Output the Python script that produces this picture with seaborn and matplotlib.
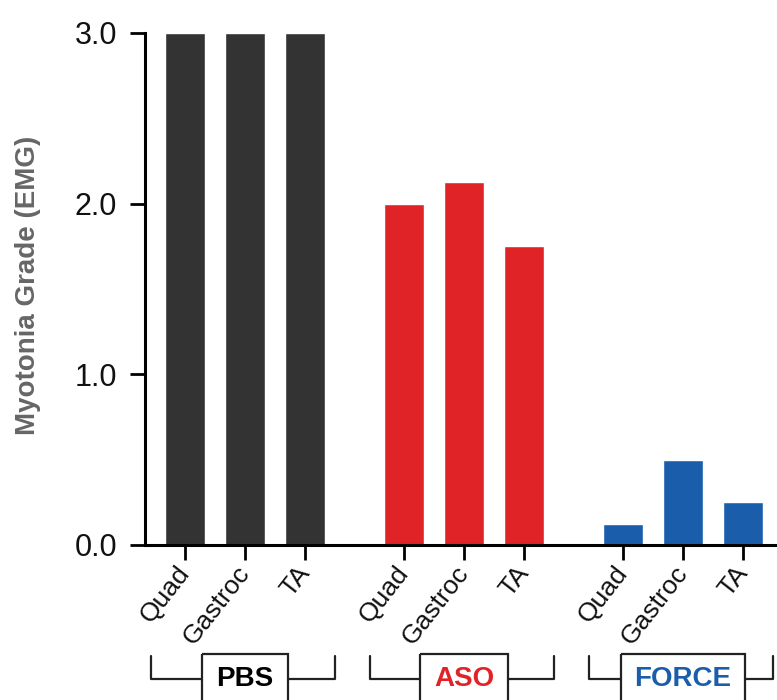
import numpy as np
import pandas as pd
import matplotlib
matplotlib.use("Agg")
import matplotlib.pyplot as plt
from matplotlib.patches import Rectangle
import matplotlib.transforms as mtransforms
import seaborn as sns

# DATA
groups = ["PBS", "ASO", "FORCE"]
muscles = ["Quad", "Gastroc", "TA"]
pbs_grade = [3.0, 3.0, 3.0]
aso_grade = [2.0, 2.125, 1.75]
force_grade = [0.125, 0.5, 0.25]
group_colors = ["#333333", "#e02327", "#1a5eab"]
group_text_colors = ["#000000", "#e02327", "#1a5eab"]

# building the long table
group_step = 3.65
rows = []
for g, (name, vals) in enumerate(zip(groups, [pbs_grade, aso_grade, force_grade])):
    for m, (muscle, v) in enumerate(zip(muscles, vals)):
        rows.append({"group": name, "muscle": muscle, "pos": g * group_step + m, "grade": v})
df = pd.DataFrame(rows)

sns.set_style("ticks")
plt.rcParams["font.family"] = ["Liberation Sans", "DejaVu Sans"]

fig = plt.figure(figsize=(7.77, 7), dpi=100)
ax = fig.add_axes([145 / 777, 155 / 700, 670 / 777, 512 / 700])

sns.barplot(data=df, x="pos", y="grade", hue="group", hue_order=groups,
            palette=group_colors, native_scale=True, dodge=False, width=0.667,
            saturation=1, legend=False, ax=ax)

ax.set_xlim(-0.667, 10.5)
ax.set_ylim(0, 3.0)
ax.set_yticks([0, 1, 2, 3])
ax.set_yticklabels(["0.0", "1.0", "2.0", "3.0"], fontsize=22, color="#111111")
ax.set_xticks(df["pos"])
ax.set_xticklabels(df["muscle"], fontsize=19, rotation=52, ha="right",
                   va="center", rotation_mode="anchor", color="#111111")
ax.tick_params(axis="y", length=11, width=2, pad=9, color="black")
ax.tick_params(axis="x", length=11, width=2, pad=6, color="black")
for side in ["top", "right"]:
    ax.spines[side].set_visible(False)
for side in ["left", "bottom"]:
    ax.spines[side].set_linewidth(2.2)
    ax.spines[side].set_color("black")
ax.set_xlabel("")
ax.set_ylabel("Myotonia Grade (EMG)", fontsize=20, fontweight="bold", color="#666666")
ax.yaxis.set_label_coords(-0.1746, 0.508)
ax.yaxis.label.set_verticalalignment("center")

# group brackets under the axis
trans = mtransforms.blended_transform_factory(ax.transData, ax.transAxes)
box_half = [0.72, 0.74, 1.03]
y_top, y_mid, y_box_bot = -0.216, -0.2625, -0.32
for g, name in enumerate(groups):
    c = g * group_step + 1
    left, right = c - 1.57, c + 1.5
    bl, br = c - box_half[g], c + box_half[g]
    ax.plot([left, left, bl], [y_top, y_mid, y_mid], color="#222222", lw=1.6,
            transform=trans, clip_on=False)
    ax.plot([br, right, right], [y_mid, y_mid, y_top], color="#222222", lw=1.6,
            transform=trans, clip_on=False)
    ax.add_patch(Rectangle((bl, y_top + 0.004), br - bl, y_box_bot - y_top - 0.004,
                           fill=False, edgecolor="#222222", lw=1.6,
                           transform=trans, clip_on=False))
    ax.text(c, y_mid, name, ha="center", va="center", fontsize=20, fontweight="bold",
            color=group_text_colors[g], transform=trans, clip_on=False)

fig.savefig("out.png", dpi=100)
